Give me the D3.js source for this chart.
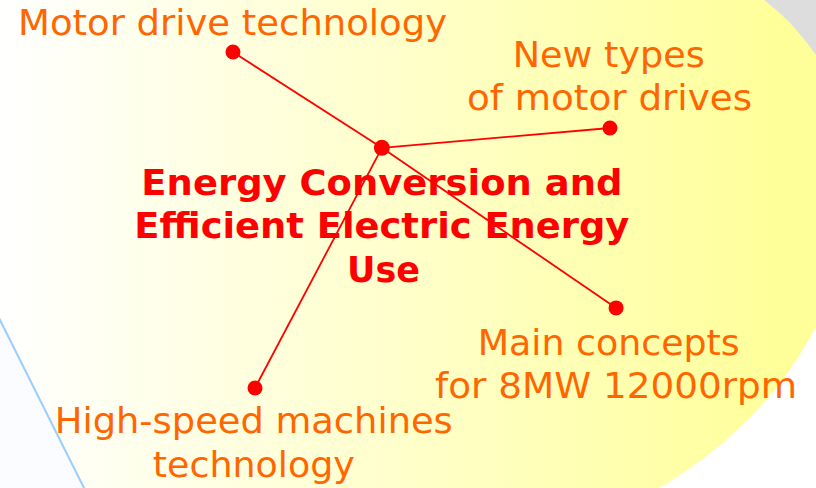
<!DOCTYPE html>
<html>
<head>
<meta charset="utf-8">
<script src="https://cdn.jsdelivr.net/npm/d3@7"></script>
<style>
  body { margin: 0; background: #fff; }
  svg { display: block; }
</style>
</head>
<body>
<div id="vis"></div>
<script>
const width = 816;
const height = 488;

// diagram data, positions in percent of the slide
const hubName = ['Energy Conversion and', 'Efficient Electric Energy', 'Use'];
const hubX = 46.8;
const hubY = 30.3;

const leafNames = [
    ['Motor drive technology'],
    ['New types', 'of motor drives'],
    ['Main concepts', 'for 8MW 12000rpm'],
    ['High-speed machines', 'technology']
];
const leafX = [28.55, 74.75, 75.5, 31.25];
const leafY = [10.66, 26.23, 63.1, 79.5];

// label anchors (percent) for each line
const labelX = [[28.5], [74.6, 74.7], [74.6, 75.5], [31.1, 31.1]];
const labelY = [[7.2], [13.7, 22.6], [72.7, 81.6], [88.7, 97.7]];
const labelW = [[429], [192, 285], [262, 362], [398, 202]];

const titleX = [46.8, 46.8, 47.0];
const titleY = [40.0, 48.8, 57.7];
const titleW = [481, 495, 73];

const x = d3.scaleLinear().domain([0, 100]).range([0, width]);
const y = d3.scaleLinear().domain([0, 100]).range([0, height]);

const svg = d3.select('#vis')
    .append('svg')
    .attr('width', width)
    .attr('height', height);

const edge = [[764, 0], [790, 22], [816, 55], [816, 340], [795, 390], [727, 437], [680, 470], [643, 488]];
const edgeW = [8, 5, 4, 2, 1, 1, 1, 2];
const cornerEdge = [[764, 0], [791, 24], [816, 55]];

function fitEllipse(pts, wts) {
    const s = 400, ox = 400, oy = 244;
    const M = [[0,0,0,0,0],[0,0,0,0,0],[0,0,0,0,0],[0,0,0,0,0],[0,0,0,0,0]];
    const v = [0,0,0,0,0];
    pts.forEach((p, n) => {
        const u = (p[0] - ox) / s, w = (p[1] - oy) / s;
        const r = [u*u, u*w, w*w, u, w];
        for (let i = 0; i < 5; i++) {
            v[i] += wts[n] * r[i];
            for (let j = 0; j < 5; j++) M[i][j] += wts[n] * r[i] * r[j];
        }
    });
    for (let i = 0; i < 5; i++) {
        let p = i;
        for (let k = i + 1; k < 5; k++) if (Math.abs(M[k][i]) > Math.abs(M[p][i])) p = k;
        [M[i], M[p]] = [M[p], M[i]];
        [v[i], v[p]] = [v[p], v[i]];
        for (let k = i + 1; k < 5; k++) {
            const f = M[k][i] / M[i][i];
            for (let j = i; j < 5; j++) M[k][j] -= f * M[i][j];
            v[k] -= f * v[i];
        }
    }
    const c = [0,0,0,0,0];
    for (let i = 4; i >= 0; i--) {
        let t = v[i];
        for (let j = i + 1; j < 5; j++) t -= M[i][j] * c[j];
        c[i] = t / M[i][i];
    }
    const [A, B, C, D, E] = c;
    if (B * B - 4 * A * C >= 0) return null;
    const det = 4 * A * C - B * B;
    const x0 = (B * E - 2 * C * D) / det;
    const y0 = (B * D - 2 * A * E) / det;
    const F0 = A*x0*x0 + B*x0*y0 + C*y0*y0 + D*x0 + E*y0 - 1;
    const th = 0.5 * Math.atan2(B, A - C);
    const cs = Math.cos(th), sn = Math.sin(th);
    const l1 = A*cs*cs + B*sn*cs + C*sn*sn;
    const l2 = A*sn*sn - B*sn*cs + C*cs*cs;
    return {
        cx: x0 * s + ox, cy: y0 * s + oy,
        rx: Math.sqrt(-F0 / l1) * s, ry: Math.sqrt(-F0 / l2) * s,
        angle: th
    };
}

const oval = fitEllipse(edge, edgeW) || {cx: 518, cy: 232, rx: 350, ry: 292, angle: -0.56};

// outline in screen coords so the gradient stays horizontal
const ovalPts = d3.range(0, 361, 2).map(a => {
    const t = a * Math.PI / 180;
    const u = oval.rx * Math.cos(t), w = oval.ry * Math.sin(t);
    return [oval.cx + u * Math.cos(oval.angle) - w * Math.sin(oval.angle),
            oval.cy + u * Math.sin(oval.angle) + w * Math.cos(oval.angle)];
});

const defs = svg.append('defs');
const grad = defs.append('linearGradient')
    .attr('id', 'bgGrad')
    .attr('gradientUnits', 'userSpaceOnUse')
    .attr('x1', 0).attr('y1', 0)
    .attr('x2', 790).attr('y2', 0);
grad.append('stop').attr('offset', 0).attr('stop-color', '#ffffff');
grad.append('stop').attr('offset', 1).attr('stop-color', '#ffff99');

// background: white, big yellow oval running off the left side, grey corner
svg.append('rect')
    .attr('width', width)
    .attr('height', height)
    .style('fill', '#ffffff');

svg.append('path')
    .attr('d', d3.line()(ovalPts) + 'Z')
    .style('fill', 'url(#bgGrad)');

svg.append('rect')
    .attr('x', -10)
    .attr('y', -10)
    .attr('width', oval.cx + 10)
    .attr('height', height + 20)
    .style('fill', 'url(#bgGrad)');

svg.append('path')
    .attr('d', d3.line().curve(d3.curveNatural)(cornerEdge) + 'L820,55L820,-5L764,-5Z')
    .style('fill', '#dddddd');

// blue edge at bottom left
svg.append('path')
    .attr('d', 'M-10,300L94,508L-10,508Z')
    .style('fill', '#fafcff');
svg.append('line')
    .attr('x1', -10).attr('y1', 300)
    .attr('x2', 94).attr('y2', 508)
    .style('stroke', '#99ccff')
    .style('stroke-width', 2);

// spokes
svg.selectAll('line.spoke')
    .data(leafX)
    .join('line')
    .attr('class', 'spoke')
    .attr('x1', x(hubX))
    .attr('y1', y(hubY))
    .attr('x2', d => x(d))
    .attr('y2', (d, i) => y(leafY[i]))
    .style('stroke', '#ff0000')
    .style('stroke-width', 1.8);

svg.selectAll('circle.leaf')
    .data(leafX)
    .join('circle')
    .attr('class', 'leaf')
    .attr('cx', d => x(d))
    .attr('cy', (d, i) => y(leafY[i]))
    .attr('r', 7.5)
    .style('fill', '#ff0000');

svg.append('circle')
    .attr('cx', x(hubX))
    .attr('cy', y(hubY))
    .attr('r', 8)
    .style('fill', '#ff0000');

// title in the middle
svg.selectAll('text.title')
    .data(hubName)
    .join('text')
    .attr('class', 'title')
    .attr('x', (d, i) => x(titleX[i]))
    .attr('y', (d, i) => y(titleY[i]))
    .attr('text-anchor', 'middle')
    .attr('textLength', (d, i) => titleW[i])
    .attr('lengthAdjust', 'spacingAndGlyphs')
    .style('font-family', '"DejaVu Sans", sans-serif')
    .style('font-weight', 'bold')
    .style('font-size', '36px')
    .style('fill', '#ff0000')
    .text(d => d);

// leaf labels
const labels = svg.selectAll('g.label')
    .data(leafNames)
    .join('g')
    .attr('class', 'label');

labels.selectAll('text')
    .data((d, i) => d.map((t, j) => ({t: t, i: i, j: j})))
    .join('text')
    .attr('x', d => x(labelX[d.i][d.j]))
    .attr('y', d => y(labelY[d.i][d.j]))
    .attr('text-anchor', 'middle')
    .attr('textLength', d => labelW[d.i][d.j])
    .attr('lengthAdjust', 'spacingAndGlyphs')
    .style('font-family', '"DejaVu Sans", sans-serif')
    .style('font-size', '35px')
    .style('fill', '#ff6600')
    .text(d => d.t);
</script>
</body>
</html>
